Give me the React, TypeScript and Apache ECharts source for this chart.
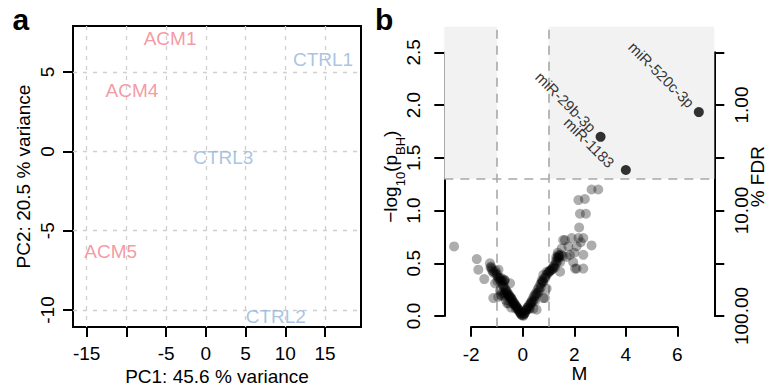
import React, { useEffect, useRef } from "react";
import * as echarts from "echarts";

// ---------- Panel a: PCA ----------
const acmNames = ["ACM1", "ACM4", "ACM5"];
const acmPC1 = [-4.5, -9.3, -11.97];
const acmPC2 = [7.09, 3.83, -6.3];
const ctrlNames = ["CTRL1", "CTRL2", "CTRL3"];
const ctrlPC1 = [14.75, 8.81, 2.2];
const ctrlPC2 = [5.82, -10.42, -0.39];

const pcaXTicks = [-15, -10, -5, 0, 5, 10, 15];
const pcaXLabels = [-15, -5, 0, 5, 10, 15];
const pcaYTicks = [-10, -5, 0, 5];

// ---------- Panel b: volcano ----------
const cloudM = [
  -2.66, -1.78, -1.72, -1.49, -1.27, -1.22, -1.2, -1.14, -1.07, -1.14, -1.05, -1.0,
  -0.94, -0.98, -0.9, -0.85, -0.81, -0.78, -0.72, -0.71, -0.69, -0.75, -0.8, -0.72,
  -0.69, -0.65, -0.6, -0.55, -0.5, -0.49, -0.45, -0.42, -0.38, -0.35, -0.3, -0.28,
  -0.25, -0.2, -0.17, -0.14, -0.1, -0.07, -0.04, -0.6, -0.45, -0.95, -0.88, -0.49,
  -1.25, -1.18, -1.1, -1.02, -0.96, -0.92, -0.86, -0.82, -0.76, -0.7, -0.66, -0.62,
  -0.58, -0.54, -0.5, -0.46, -0.42, -0.38, -0.34, -0.3, -0.26, -0.22, -0.18, -0.12,
  -0.08, -0.03, -0.84, -0.78, -0.65, -0.55,
  0.02, 0.05, 0.09, 0.12, 0.16, 0.2, 0.24, 0.28, 0.3, 0.35, 0.41, 0.4, 0.45, 0.48,
  0.5, 0.54, 0.55, 0.6, 0.65, 0.7, 0.74, 0.78, 0.8, 0.8, 0.8, 0.86, 0.88, 0.93, 0.93,
  1.0, 1.05, 1.12, 1.19, 1.19, 1.25, 1.3, 1.38, 1.38, 1.45, 1.45, 1.51, 1.57, 1.64,
  1.77, 1.83, 1.9, 1.96, 2.03, 2.09, 2.09, 2.16, 2.19, 2.16, 2.22, 2.35, 2.35, 2.35,
  2.41, 2.45, 2.67, 2.67, 2.93, 1.7, 1.55, 2.0, 2.25, 1.4, 1.35,
  0.04, 0.08, 0.14, 0.18, 0.22, 0.26, 0.32, 0.36, 0.42, 0.46, 0.52, 0.58, 0.62, 0.68,
  0.72, 0.76, 0.84, 0.9, 0.96, 1.02, 1.08, 1.15, 1.22, 1.28, 1.34, 1.42, 1.48, 1.36, 1.3,
];
const cloudLogP = [
  0.66, 0.54, 0.44, 0.35, 0.5, 0.47, 0.45, 0.41, 0.31, 0.17, 0.43, 0.4,
  0.44, 0.33, 0.36, 0.35, 0.36, 0.33, 0.33, 0.34, 0.34, 0.28, 0.19, 0.2,
  0.22, 0.24, 0.21, 0.19, 0.18, 0.14, 0.17, 0.15, 0.12, 0.13, 0.1, 0.07,
  0.09, 0.07, 0.06, 0.05, 0.03, 0.02, 0.01, 0.12, 0.08, 0.18, 0.24, 0.31,
  0.46, 0.43, 0.42, 0.39, 0.37, 0.35, 0.33, 0.31, 0.29, 0.27, 0.25, 0.23,
  0.22, 0.2, 0.19, 0.17, 0.16, 0.14, 0.12, 0.11, 0.1, 0.08, 0.07, 0.04,
  0.03, 0.01, 0.2, 0.22, 0.15, 0.12,
  0.0, 0.02, 0.03, 0.05, 0.06, 0.08, 0.07, 0.07, 0.11, 0.13, 0.07, 0.14, 0.16, 0.14,
  0.19, 0.06, 0.21, 0.22, 0.24, 0.27, 0.34, 0.33, 0.32, 0.39, 0.17, 0.17, 0.36, 0.26, 0.42,
  0.41, 0.43, 0.44, 0.45, 0.47, 0.46, 0.5, 0.56, 0.58, 0.51, 0.42, 0.64, 0.72, 0.72,
  0.66, 0.58, 0.74, 0.51, 0.45, 0.66, 0.45, 0.74, 0.84, 1.1, 0.97, 0.74, 0.58, 0.45,
  1.11, 0.97, 0.67, 1.2, 1.2, 0.56, 0.57, 0.6, 0.7, 0.55, 0.52,
  0.01, 0.03, 0.06, 0.08, 0.09, 0.11, 0.13, 0.15, 0.18, 0.2, 0.22, 0.25, 0.27, 0.3,
  0.31, 0.33, 0.36, 0.38, 0.4, 0.42, 0.43, 0.45, 0.48, 0.52, 0.55, 0.57, 0.58, 0.6, 0.56,
];
const hitNames = ["miR-520c-3p", "miR-29b-3p", "miR-1183"];
const hitM = [6.83, 3.02, 4.0];
const hitLogP = [1.935, 1.7, 1.385];

const fdrTickValues = [0, 1, 2];
const fdrTickLabels = ["100.00", "10.00", "1.00"];
const fdrThreshold = 1.301;
const foldThreshold = 1;

// axis extents
const PCA_X = [-16.72, 19.53];
const PCA_Y = [-11.07, 7.9];
const VOL_X = [-3.04, 7.43];
const VOL_Y = [-0.1015, 2.745];

const FONT = "'Liberation Sans', Arial, Helvetica, sans-serif";
const hitLabelPos: Record<string, number[]> = {
  "miR-520c-3p": [-2, -2],
  "miR-29b-3p": [-2, -2],
  "miR-1183": [-9, 0],
};

export default function App() {
  const ref = useRef<HTMLDivElement>(null);
  useEffect(() => {
    if (!ref.current) return;
    const chart = echarts.init(ref.current, undefined, { renderer: "svg" });
    const axisText = { fontSize: 19, color: "#000", fontFamily: FONT };
    const black = { color: "#000", width: 2 };
    const hidden = {
      axisLine: { show: false, onZero: false },
      axisTick: { show: false },
      axisLabel: { show: false },
      splitLine: { show: false },
    };
    const grid = { color: "#CFCFCF", type: [4, 6], width: 1.3 };
    const g = { outerBoundsMode: "none", containLabel: false };
    const option: any = {
      animation: false,
      backgroundColor: "#fff",
      textStyle: { fontFamily: FONT },
      grid: [
        { ...g, left: 73, top: 26, width: 288, height: 301, show: true, borderColor: "#000", borderWidth: 2, backgroundColor: "transparent" },
        { ...g, left: 444.3, top: 26.7, width: 270, height: 300 },
        { ...g, left: 471.1, top: 26.7, width: 206.3, height: 300 },
        { ...g, left: 444.3, top: 52.3, width: 270, height: 263.7 },
      ],
      xAxis: [
        {
          gridIndex: 0, type: "value", min: PCA_X[0], max: PCA_X[1],
          axisLine: { show: false, onZero: false },
          axisTick: { show: true, customValues: pcaXTicks, length: 10, lineStyle: black },
          axisLabel: { ...axisText, customValues: pcaXLabels, margin: 16.5 },
          splitLine: { show: true, lineStyle: grid },
          name: "PC1: 45.6 % variance", nameLocation: "middle", nameGap: 39.5,
          nameTextStyle: axisText,
        },
        {
          gridIndex: 1, type: "value", min: VOL_X[0], max: VOL_X[1], ...hidden,
          name: "M", nameLocation: "middle", nameGap: 36.8, nameTextStyle: axisText,
        },
        {
          gridIndex: 2, type: "value", min: -2, max: 6, interval: 2,
          axisLine: { show: true, onZero: false, lineStyle: black },
          axisTick: { show: true, length: 10, lineStyle: black },
          axisLabel: { ...axisText, margin: 18 },
          splitLine: { show: false },
        },
        { gridIndex: 3, type: "value", min: 0, max: 1, show: false },
      ],
      yAxis: [
        {
          gridIndex: 0, type: "value", min: PCA_Y[0], max: PCA_Y[1],
          axisLine: { show: false, onZero: false },
          axisTick: { show: true, customValues: pcaYTicks, length: 10, lineStyle: black },
          axisLabel: { ...axisText, customValues: pcaYTicks, rotate: 90, margin: 16 },
          splitLine: { show: true, lineStyle: grid },
          name: "PC2: 20.5 % variance", nameLocation: "middle", nameGap: 40.5, nameRotate: 90,
          nameTextStyle: axisText,
        },
        {
          gridIndex: 1, type: "value", min: VOL_Y[0], max: VOL_Y[1], position: "left", ...hidden,
          name: "{a|−log}{s|10}{a|(p}{s|BH}{a|)}", nameLocation: "middle", nameGap: 37, nameRotate: 90,
          nameTextStyle: {
            rich: {
              a: { fontSize: 19, color: "#000", fontFamily: FONT, lineHeight: 26, verticalAlign: "top" },
              s: { fontSize: 13, color: "#000", fontFamily: FONT, lineHeight: 14, verticalAlign: "bottom" },
            },
          },
        },
        {
          gridIndex: 1, type: "value", min: VOL_Y[0], max: VOL_Y[1], position: "right", ...hidden,
          name: "% FDR", nameLocation: "middle", nameGap: 34, nameRotate: 90, nameTextStyle: axisText,
        },
        { gridIndex: 2, type: "value", min: 0, max: 1, show: false },
        {
          gridIndex: 3, type: "value", min: 0, max: 2.5, interval: 0.5, position: "left",
          axisLine: { show: true, onZero: false, lineStyle: black },
          axisTick: { show: true, length: 10, lineStyle: black },
          axisLabel: { ...axisText, rotate: 90, margin: 21, formatter: (v: number) => v.toFixed(1) },
          splitLine: { show: false },
        },
        {
          gridIndex: 3, type: "value", min: 0, max: 2.5, interval: 0.5, position: "right",
          axisLine: { show: true, onZero: false, lineStyle: black },
          axisTick: { show: true, length: 10, lineStyle: black },
          axisLabel: {
            ...axisText, rotate: 90, margin: 18, customValues: fdrTickValues,
            formatter: (v: number) => fdrTickLabels[fdrTickValues.indexOf(v)] ?? "",
          },
          splitLine: { show: false },
        },
      ],
      series: [
        {
          type: "scatter", xAxisIndex: 0, yAxisIndex: 0, symbolSize: 1,
          itemStyle: { color: "rgba(0,0,0,0)" },
          data: acmNames.map((n, i) => ({ name: n, value: [acmPC1[i], acmPC2[i]] })),
          label: { show: true, position: "inside", formatter: "{b}", color: "#F2808C", fontSize: 19, fontFamily: FONT },
        },
        {
          type: "scatter", xAxisIndex: 0, yAxisIndex: 0, symbolSize: 1,
          itemStyle: { color: "rgba(0,0,0,0)" },
          data: ctrlNames.map((n, i) => ({ name: n, value: [ctrlPC1[i], ctrlPC2[i]] })),
          label: { show: true, position: "inside", formatter: "{b}", color: "#92B5DA", fontSize: 19, fontFamily: FONT },
        },
        {
          type: "scatter", xAxisIndex: 1, yAxisIndex: 1, symbolSize: 10, z: 2,
          itemStyle: { color: "rgba(0,0,0,0.4)" },
          data: cloudM.map((m, i) => [m, cloudLogP[i]]),
          markArea: {
            silent: true, z: 1,
            itemStyle: { color: "#F2F2F2" },
            data: [
              [{ coord: [VOL_X[0], fdrThreshold] }, { coord: [-foldThreshold, VOL_Y[1]] }],
              [{ coord: [foldThreshold, fdrThreshold] }, { coord: [VOL_X[1], VOL_Y[1]] }],
            ],
          },
          markLine: {
            silent: true, z: 1.5, symbol: ["none", "none"], label: { show: false },
            lineStyle: { color: "#A8A8A8", type: [9, 7], width: 1.6 },
            data: [{ xAxis: -foldThreshold }, { xAxis: foldThreshold }, { yAxis: fdrThreshold }],
          },
        },
        {
          type: "scatter", xAxisIndex: 1, yAxisIndex: 1, symbolSize: 10, z: 3,
          itemStyle: { color: "#000" },
          data: hitNames.map((n, i) => ({
            name: n, value: [hitM[i], hitLogP[i]],
            label: { position: hitLabelPos[n] },
          })),
          label: {
            show: true, formatter: "{b}", rotate: -45, align: "right", verticalAlign: "middle",
            color: "#000", fontSize: 15, fontFamily: FONT,
          },
        },
      ],
      graphic: [
        { type: "text", left: 12.5, top: 4, style: { text: "a", font: `bold 30px ${FONT}`, fill: "#000" } },
        { type: "text", left: 375, top: 4, style: { text: "b", font: `bold 30px ${FONT}`, fill: "#000" } },
      ],
    };
    chart.setOption(option);
    return () => chart.dispose();
  }, []);
  return (
    <div
      ref={ref}
      style={{ position: "fixed", left: 0, top: 0, width: 767, height: 386, background: "#fff" }}
    />
  );
}
